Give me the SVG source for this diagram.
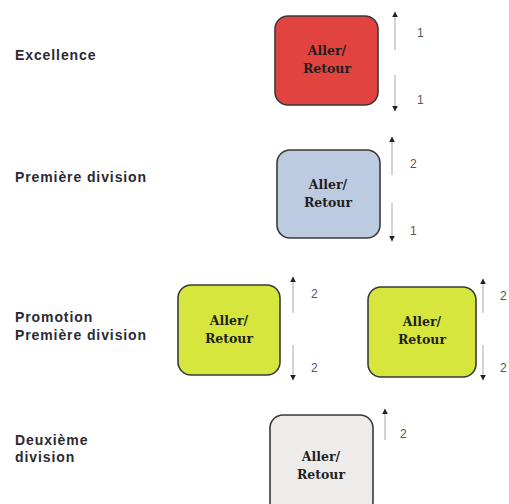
<svg xmlns="http://www.w3.org/2000/svg" width="509" height="504" viewBox="0 0 509 504">
<defs>
<marker id="ah" viewBox="0 0 10 10" refX="9" refY="5" markerWidth="6" markerHeight="8" orient="auto" markerUnits="userSpaceOnUse">
<path d="M0,0 L10,5 L0,10 z" fill="#222"/>
</marker>
<style>
.lbl{font-family:"Liberation Sans",Arial,sans-serif;font-weight:bold;font-size:14px;letter-spacing:0.9px;fill:#2a2a35}
.box{stroke:#3a3a3a;stroke-width:1.6}
.bt{font-family:"DejaVu Serif","Liberation Serif",serif;font-weight:bold;font-size:12.5px;fill:#1f1f1f;text-anchor:middle}
.num{font-family:"Liberation Sans",Arial,sans-serif;font-size:12px;fill:#555}
.arr{stroke:#b8b8b8;stroke-width:1.2;fill:none;marker-end:url(#ah)}
</style>
</defs>
<rect width="509" height="504" fill="#fff"/>
<g id="labels">
<text class="lbl" x="15" y="60">Excellence</text>
<text class="lbl" x="15" y="182">Première division</text>
<text class="lbl" x="15" y="322">Promotion</text>
<text class="lbl" x="15" y="340">Première division</text>
<text class="lbl" x="15" y="445">Deuxième</text>
<text class="lbl" x="15" y="462">division</text>
</g>
<g id="node-excellence">
<rect class="box" x="275" y="16" width="103" height="89" rx="13" fill="#e1433f"/>
<text class="bt" x="327" y="55">Aller/</text>
<text class="bt" x="327" y="73">Retour</text>
</g>
<g id="node-premiere">
<rect class="box" x="277" y="150" width="103" height="88" rx="13" fill="#bccbe0"/>
<text class="bt" x="328" y="189">Aller/</text>
<text class="bt" x="328" y="207">Retour</text>
</g>
<g id="node-promo1">
<rect class="box" x="178" y="285" width="102" height="90" rx="13" fill="#d6e63c"/>
<text class="bt" x="229" y="325">Aller/</text>
<text class="bt" x="229" y="343">Retour</text>
</g>
<g id="node-promo2">
<rect class="box" x="368" y="287" width="108" height="90" rx="13" fill="#d6e63c"/>
<text class="bt" x="422" y="326">Aller/</text>
<text class="bt" x="422" y="344">Retour</text>
</g>
<g id="node-deuxieme">
<rect class="box" x="270" y="415" width="103" height="100" rx="13" fill="#eeebeb"/>
<text class="bt" x="321" y="461">Aller/</text>
<text class="bt" x="321" y="479">Retour</text>
</g>
<g id="connectors">
<line class="arr" x1="395" y1="50" x2="395" y2="12"/>
<line class="arr" x1="395" y1="75" x2="395" y2="111"/>
<line class="arr" x1="392" y1="175" x2="392" y2="137"/>
<line class="arr" x1="392" y1="203" x2="392" y2="241"/>
<line class="arr" x1="293" y1="313" x2="293" y2="277"/>
<line class="arr" x1="293" y1="345" x2="293" y2="380"/>
<line class="arr" x1="483" y1="313" x2="483" y2="279"/>
<line class="arr" x1="483" y1="345" x2="483" y2="380"/>
<line class="arr" x1="385" y1="440" x2="385" y2="409"/>
</g>
<g id="numbers">
<text class="num" x="417" y="37">1</text>
<text class="num" x="417" y="104">1</text>
<text class="num" x="410" y="168">2</text>
<text class="num" x="410" y="235">1</text>
<text class="num" x="311" y="298">2</text>
<text class="num" x="311" y="372">2</text>
<text class="num" x="500" y="300">2</text>
<text class="num" x="500" y="372">2</text>
<text class="num" x="400" y="438">2</text>
</g>
</svg>
